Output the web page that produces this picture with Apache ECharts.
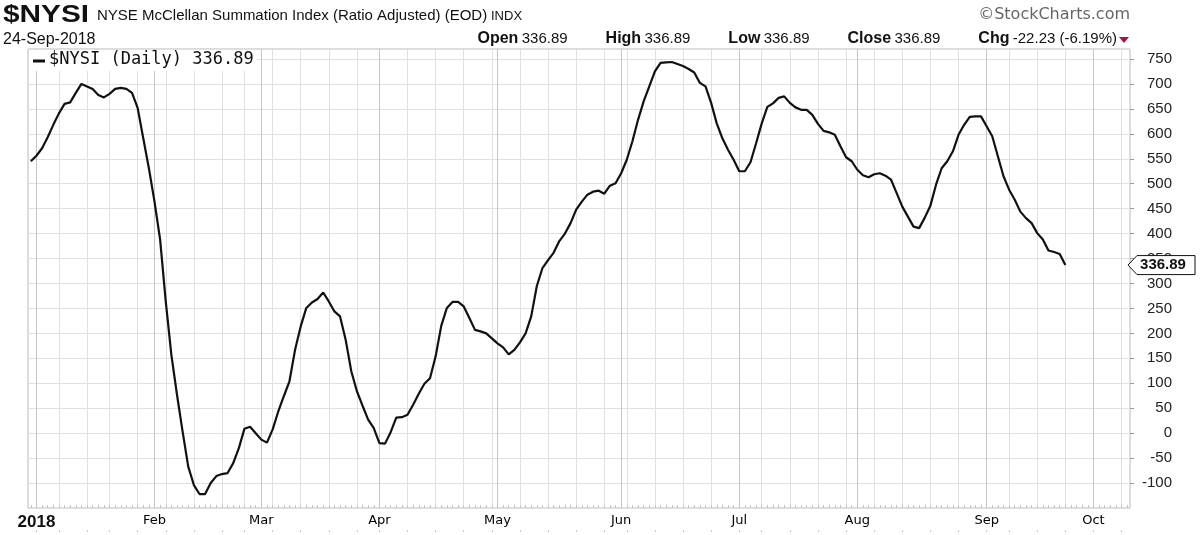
<!DOCTYPE html>
<html><head><meta charset="utf-8">
<script src="https://cdn.jsdelivr.net/npm/echarts@6/dist/echarts.min.js"></script>
<style>html,body{margin:0;padding:0;background:#fff}#c{width:1200px;height:535px}</style>
</head><body><div id="c"></div>
<script>
// ---------- data ----------
const symbolText = '$NYSI';
const titleText = 'NYSE McClellan Summation Index (Ratio Adjusted) (EOD)';
const exchangeText = 'INDX';
const dateText = '24-Sep-2018';
const quoteLabels = ['Open', 'High', 'Low', 'Close', 'Chg'];
const quoteValues = ['336.89', '336.89', '336.89', '336.89', '-22.23 (-6.19%)'];
const legendText = '$NYSI (Daily) 336.89';
const copyrightText = '\u00A9StockCharts.com';
const monthLabels = ['2018', 'Feb', 'Mar', 'Apr', 'May', 'Jun', 'Jul', 'Aug', 'Sep', 'Oct', 'Nov', 'Dec'];
const marketHolidays = ['2018-01-01', '2018-01-15', '2018-02-19', '2018-03-30', '2018-05-28', '2018-07-04', '2018-09-03'];
const firstTradingDay = '2017-12-29';
const axisTradingDays = 196; // Dec 29 2017 .. Oct 9 2018
const lastValue = 336.89;
// daily NYSI closes from 29-Dec-2017 to 24-Sep-2018
const nysiValues = [
  545,
  556, 571, 593, 618, 641, 660, 663, 682, 700, 695, 690, 678, 673, 680, 690, 692, 690, 682, 652, 591, 531,
  464, 388, 264, 157, 77, 3, -67, -104, -122, -122, -100, -86, -82, -80, -60, -30, 9, 13, 0,
  -13, -19, 7, 43, 74, 104, 167, 214, 251, 262, 269, 282, 264, 244, 234, 187, 124, 84, 55, 27, 10,
  -20, -21, 2, 31, 32, 37, 57, 79, 99, 110, 154, 215, 251, 263, 263, 254, 231, 207, 204, 200, 190,
  180, 172, 158, 167, 182, 200, 234, 295, 331, 347, 362, 385, 400, 421, 448, 464, 478, 484, 486, 480, 496, 501,
  521, 548, 585, 628, 665, 695, 725, 742, 743, 744, 740, 736, 730, 723, 702, 695, 662, 621, 591, 568, 548,
  525, 525, 543, 581, 621, 654, 661, 672, 675, 662, 653, 648, 648, 638, 620, 606, 603, 598, 575, 553, 545,
  528, 517, 513, 519, 521, 516, 508, 481, 454, 434, 414, 411, 432, 456, 498, 531, 545, 565, 598, 618, 634, 635, 635,
  615, 595, 555, 515, 488, 468, 444, 431, 421, 401, 388, 366, 363, 359.12, 336.89
];

// ---------- trading-day calendar ----------
function buildDates() {
  const out = [];
  const d = new Date(firstTradingDay + 'T00:00:00Z');
  while (out.length < axisTradingDays) {
    const s = d.toISOString().slice(0, 10);
    const wd = d.getUTCDay();
    if (wd !== 0 && wd !== 6 && marketHolidays.indexOf(s) < 0) out.push(s);
    d.setUTCDate(d.getUTCDate() + 1);
  }
  return out;
}
const dates = buildDates();
function mondayOf(s) {
  const d = new Date(s + 'T00:00:00Z');
  d.setUTCDate(d.getUTCDate() - ((d.getUTCDay() + 6) % 7));
  return d.toISOString().slice(0, 10);
}
const isMonthStart = (i) => i > 0 && dates[i].slice(5, 7) !== dates[i - 1].slice(5, 7);
const isWeekStart = (i) => i > 0 && mondayOf(dates[i]) !== mondayOf(dates[i - 1]);

// ---------- chart ----------
const chart = echarts.init(document.getElementById('c'), null, { renderer: 'canvas' });
const gridRect = { left: 28, right: 70, top: 49, bottom: 27 };
const baseFont = 'Liberation Sans, Arial, sans-serif';

const option = {
  animation: false,
  backgroundColor: '#fff',
  grid: Object.assign({ show: true, borderColor: '#b8b8b8', borderWidth: 1, backgroundColor: '#fff' }, gridRect),
  xAxis: [
    { // weekly grid + daily ticks
      type: 'category', data: dates, boundaryGap: true, position: 'bottom',
      axisLine: { show: false, onZero: false },
      axisLabel: { show: false },
      axisTick: { show: true, interval: 0, inside: true, length: 3, alignWithLabel: true, lineStyle: { color: '#c4c4c4' } },
      splitLine: { show: true, interval: (i) => isWeekStart(i), alignWithLabel: true, lineStyle: { color: '#e0e0e0', width: 1 } }
    },
    { // month grid + labels
      type: 'category', data: dates, boundaryGap: true, position: 'bottom',
      axisLine: { show: false, onZero: false },
      axisTick: { show: false },
      splitLine: { show: true, interval: (i) => isMonthStart(i), alignWithLabel: true, lineStyle: { color: '#c6c6c6', width: 1 } },
      axisLabel: {
        show: true, interval: (i) => isMonthStart(i), margin: 6,
        color: '#000', fontFamily: 'DejaVu Sans, Verdana, sans-serif', fontSize: 13,
        formatter: (v) => {
          const m = parseInt(v.slice(5, 7), 10) - 1;
          return m === 0 ? '{y|' + monthLabels[0] + '}' : monthLabels[m];
        },
        rich: { y: { fontFamily: baseFont, fontWeight: 'bold', fontSize: 17, color: '#111' } }
      }
    },
    { // faint week marks under the labels
      type: 'category', data: dates, boundaryGap: true, position: 'bottom', offset: 22,
      axisLine: { show: false, onZero: false }, axisLabel: { show: false }, splitLine: { show: false },
      axisTick: { show: true, interval: (i) => isWeekStart(i), length: 2, alignWithLabel: true, lineStyle: { color: '#c8c8c8' } }
    }
  ],
  yAxis: {
    type: 'value', position: 'right', min: -150, max: 770, interval: 50,
    axisLine: { show: false },
    axisTick: { show: true, length: 4, lineStyle: { color: '#999' } },
    splitLine: { show: true, lineStyle: { color: '#e0e0e0', width: 1 } },
    axisLabel: {
      show: true, align: 'right', margin: 42, color: '#222', fontFamily: baseFont, fontSize: 15,
      showMaxLabel: false, showMinLabel: false,
      formatter: (v) => (v < -100 || v > 750) ? '' : String(v)
    }
  },
  series: [{
    type: 'line', xAxisIndex: 0, yAxisIndex: 0, data: nysiValues,
    showSymbol: false, symbol: 'none', clip: true, z: 5,
    lineStyle: { color: '#111', width: 2.2 }
  }]
};
chart.setOption(option);

// ---------- header, legend and price tag ----------
const tagY = chart.convertToPixel({ yAxisIndex: 0 }, lastValue);
const plotRight = 1200 - gridRect.right;
const quoteRich = quoteLabels.map((l, i) => '{b|' + l + '} {v|' + quoteValues[i] + '}').join('{g| }');
chart.setOption({
  graphic: [
    { type: 'text', left: 3, top: 3, scaleX: 1.24, style: { text: symbolText, font: 'bold 24px ' + baseFont, fill: '#111' } },
    { type: 'text', left: 97, top: 8, style: { text: titleText, font: '15px ' + baseFont, fill: '#111' } },
    { type: 'text', left: 491, top: 10, style: { text: exchangeText, font: '13px ' + baseFont, fill: '#111' } },
    { type: 'text', right: 70, top: 7, style: { text: copyrightText, font: '16px DejaVu Sans, sans-serif', fill: '#666' } },
    { type: 'text', left: 3, top: 32, style: { text: dateText, font: '16px ' + baseFont, fill: '#111' } },
    { type: 'text', right: 83, top: 31, style: { text: quoteRich, fill: '#111',
        rich: { b: { font: 'bold 16px ' + baseFont, fill: '#111' }, v: { font: '15px ' + baseFont, fill: '#111' },
                g: { font: '15px ' + baseFont, width: 38 } } } },
    { type: 'polygon', shape: { points: [[1119, 37], [1129, 37], [1124, 43]] }, style: { fill: '#b01040' } },
    // legend box
    { type: 'rect', z: 10, shape: { x: gridRect.left + 1, y: gridRect.top + 1, width: 228, height: 21 }, style: { fill: '#fff' } },
    { type: 'line', z: 11, shape: { x1: 33, y1: 61, x2: 45, y2: 61 }, style: { stroke: '#111', lineWidth: 3 } },
    { type: 'text', z: 11, left: 49, top: 51, style: { text: legendText, font: '17px DejaVu Sans Mono, monospace', fill: '#111' } },
    // price tag
    { type: 'polygon', z: 20, shape: { points: [[plotRight - 2, tagY], [plotRight + 7, tagY - 9.5], [1195, tagY - 9.5], [1195, tagY + 9.5], [plotRight + 7, tagY + 9.5]] },
      style: { fill: '#fff', stroke: '#111', lineWidth: 1 } },
    { type: 'text', z: 21, x: 1163, y: tagY, style: { text: String(lastValue), font: 'bold 15px ' + baseFont, fill: '#111', align: 'center', verticalAlign: 'middle' } }
  ]
});
</script>
</body></html>
